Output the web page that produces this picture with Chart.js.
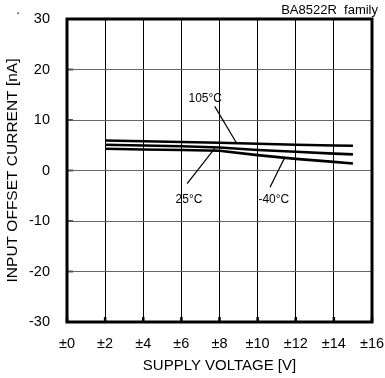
<!DOCTYPE html>
<html>
<head>
<meta charset="utf-8">
<script src="https://cdn.jsdelivr.net/npm/chart.js@4.4.1/dist/chart.umd.min.js"></script>
<style>
  html, body { margin: 0; padding: 0; background: #fff; }
  #wrap { width: 385px; height: 378px; }
</style>
</head>
<body>
<div id="wrap"><canvas id="chart" width="385" height="378"></canvas></div>
<script>
// supply voltage (±V) and input offset current (nA)
const voltages = [2, 4, 6, 8, 10, 12, 14, 15];
const current105 = [5.95, 5.8, 5.65, 5.5, 5.3, 5.1, 4.95, 4.9];
const current25 = [5.1, 4.95, 4.8, 4.55, 4.05, 3.7, 3.35, 3.2];
const currentMinus40 = [4.3, 4.15, 4.05, 3.9, 3.05, 2.3, 1.7, 1.4];

const xTicks = [0, 2, 4, 6, 8, 10, 12, 14, 16];
const yTicks = [-30, -20, -10, 0, 10, 20, 30];

// temperature labels: text position and leader line (from -> to), in data units
const labelTexts = ['105°C', '25°C', '-40°C'];
const labelPos = [[7.25, 14.3], [6.4, -5.7], [10.85, -5.7]];
const leaderFrom = [[7.75, 12.7], [6.3, -2.6], [10.65, -3.3]];
const leaderTo = [[8.9, 5.4], [7.75, 4.4], [11.4, 2.4]];

const FONT = "'Liberation Sans', Arial, sans-serif";

function toPoints(ys) {
    return voltages.map((v, i) => ({ x: v, y: ys[i] }));
}

function lineSet(label, ys) {
    return {
        label: label,
        data: toPoints(ys),
        borderColor: '#000',
        borderWidth: 2.6,
        pointRadius: 0,
        fill: false,
        tension: 0
    };
}

// frame, inner ticks, part name and temperature callouts
const extras = {
    id: 'extras',
    afterDatasetsDraw(chart) {
        const c = chart.ctx;
        const xs = chart.scales.x;
        const ys = chart.scales.y;
        const area = chart.chartArea;

        c.save();
        c.strokeStyle = '#000';
        c.lineWidth = 1.2;
        for (let i = 0; i < labelTexts.length; i++) {
            c.beginPath();
            c.moveTo(xs.getPixelForValue(leaderFrom[i][0]), ys.getPixelForValue(leaderFrom[i][1]));
            c.lineTo(xs.getPixelForValue(leaderTo[i][0]), ys.getPixelForValue(leaderTo[i][1]));
            c.stroke();
        }

        c.fillStyle = '#000';
        c.font = '12px ' + FONT;
        c.textAlign = 'center';
        c.textBaseline = 'middle';
        for (let i = 0; i < labelTexts.length; i++) {
            c.fillText(labelTexts[i], xs.getPixelForValue(labelPos[i][0]), ys.getPixelForValue(labelPos[i][1]));
        }

        // short inward ticks on the bottom and left edges
        c.lineWidth = 2.5;
        xTicks.forEach(v => {
            const px = xs.getPixelForValue(v);
            c.beginPath();
            c.moveTo(px, area.bottom);
            c.lineTo(px, area.bottom - 5);
            c.stroke();
        });
        c.strokeStyle = '#555';
        c.lineWidth = 2;
        yTicks.forEach(v => {
            const py = ys.getPixelForValue(v);
            c.beginPath();
            c.moveTo(area.left, py);
            c.lineTo(area.left + 6, py);
            c.stroke();
        });

        // thick frame round the plot
        c.strokeStyle = '#000';
        c.lineWidth = 3;
        c.strokeRect(area.left, area.top, area.right - area.left, area.bottom - area.top);

        c.font = '13px ' + FONT;
        c.textAlign = 'right';
        c.fillText('BA8522R  family', 378, 10.5);
        c.textAlign = 'center';
        c.textBaseline = 'alphabetic';
        c.fillText('.', 18, 13.5);
        c.restore();
    }
};

new Chart(document.getElementById('chart'), {
    type: 'line',
    data: {
        datasets: [
            lineSet('105°C', current105),
            lineSet('25°C', current25),
            lineSet('-40°C', currentMinus40)
        ]
    },
    options: {
        responsive: false,
        animation: false,
        layout: { padding: { left: 0, top: 19, right: 13, bottom: 0 } },
        plugins: {
            legend: { display: false },
            tooltip: { enabled: false }
        },
        scales: {
            x: {
                type: 'linear',
                min: 0,
                max: 16,
                // fixed box, no extra room for the end labels
                afterFit: (s) => { s.height = 56; s.paddingLeft = 0; s.paddingRight = 0; },
                afterBuildTicks: (s) => { s.ticks = xTicks.map(v => ({ value: v })); },
                ticks: {
                    color: '#000',
                    padding: 13,
                    maxRotation: 0,
                    font: { family: FONT, size: 14.5 },
                    callback: (v) => '±' + v
                },
                grid: { color: '#000', lineWidth: 1, drawTicks: false },
                border: { display: false },
                title: {
                    display: true,
                    text: 'SUPPLY VOLTAGE [V]',
                    color: '#000',
                    font: { family: FONT, size: 15 },
                    padding: { top: 0, bottom: 3 }
                }
            },
            y: {
                type: 'linear',
                min: -30,
                max: 30,
                afterFit: (s) => { s.width = 67; s.paddingTop = 0; s.paddingBottom = 0; },
                afterBuildTicks: (s) => { s.ticks = yTicks.map(v => ({ value: v })); },
                ticks: {
                    color: '#000',
                    padding: 17,
                    font: { family: FONT, size: 14.5 }
                },
                grid: { color: '#666', lineWidth: 1, drawTicks: false },
                border: { display: false },
                title: {
                    display: true,
                    text: 'INPUT OFFSET CURRENT [nA]',
                    color: '#000',
                    font: { family: FONT, size: 15.5 },
                    padding: { top: 3, bottom: 0 }
                }
            }
        }
    },
    plugins: [extras]
});
</script>
</body>
</html>
